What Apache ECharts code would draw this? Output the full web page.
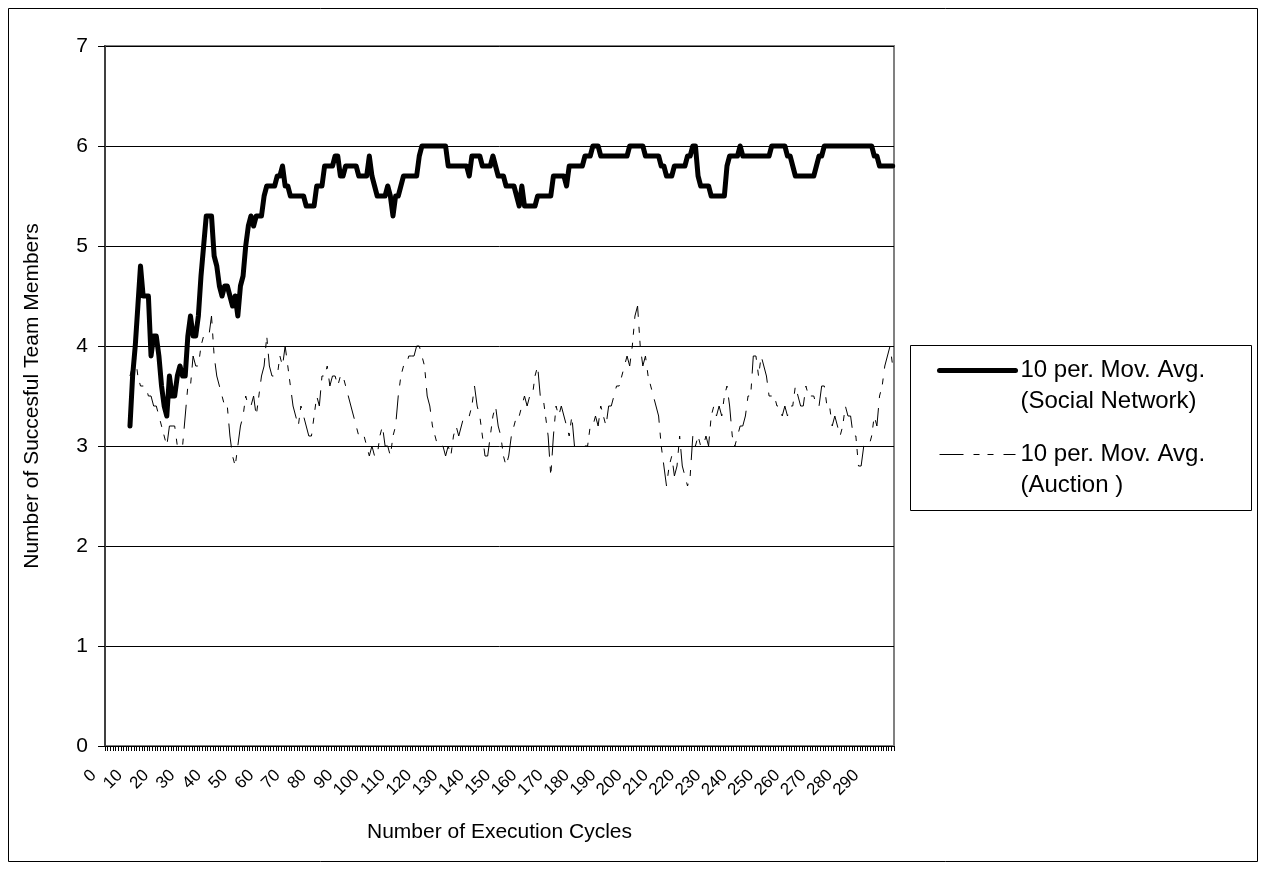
<!DOCTYPE html>
<html>
<head>
<meta charset="utf-8">
<script src="https://cdn.jsdelivr.net/npm/echarts@6/dist/echarts.min.js"></script>
<style>
html,body{margin:0;padding:0;background:#fff}
#chart{width:1266px;height:870px}
</style>
</head>
<body>
<div id="chart"></div>
<script>
// Categories: execution cycles 0..299 (tick labels every 10th category)
const firstCycle = 0;
const lastCycle = 299;
const cycles = [];
for (let c = firstCycle; c <= lastCycle; c++) cycles.push(String(c));

// The 10-period moving average starts at the 10th category (index 9)
const maStart = 9;

const seriesNames = ['10 per. Mov. Avg.\n(Social Network)', '10 per. Mov. Avg.\n(Auction )'];

// 10 per. Mov. Avg. (Social Network), cycles 9..299
const socialNetwork = [
  3.2,
  3.7, 4.0, 4.4, 4.8, 4.5, 4.5, 4.5, 3.9, 4.1, 4.1,
  3.9, 3.6, 3.4, 3.3, 3.7, 3.5, 3.5, 3.7, 3.8, 3.7,
  3.7, 4.1, 4.3, 4.1, 4.1, 4.3, 4.7, 5.0, 5.3, 5.3,
  5.3, 4.9, 4.8, 4.6, 4.5, 4.6, 4.6, 4.5, 4.4, 4.5,
  4.3, 4.6, 4.7, 5.0, 5.2, 5.3, 5.2, 5.3, 5.3, 5.3,
  5.5, 5.6, 5.6, 5.6, 5.6, 5.7, 5.7, 5.8, 5.6, 5.6,
  5.5, 5.5, 5.5, 5.5, 5.5, 5.5, 5.4, 5.4, 5.4, 5.4,
  5.6, 5.6, 5.6, 5.8, 5.8, 5.8, 5.8, 5.9, 5.9, 5.7,
  5.7, 5.8, 5.8, 5.8, 5.8, 5.8, 5.7, 5.7, 5.7, 5.7,
  5.9, 5.7, 5.6, 5.5, 5.5, 5.5, 5.5, 5.6, 5.5, 5.3,
  5.5, 5.5, 5.6, 5.7, 5.7, 5.7, 5.7, 5.7, 5.7, 5.9,
  6.0, 6.0, 6.0, 6.0, 6.0, 6.0, 6.0, 6.0, 6.0, 6.0,
  5.8, 5.8, 5.8, 5.8, 5.8, 5.8, 5.8, 5.8, 5.7, 5.9,
  5.9, 5.9, 5.9, 5.8, 5.8, 5.8, 5.8, 5.9, 5.8, 5.7,
  5.7, 5.7, 5.6, 5.6, 5.6, 5.6, 5.5, 5.4, 5.6, 5.4,
  5.4, 5.4, 5.4, 5.4, 5.5, 5.5, 5.5, 5.5, 5.5, 5.5,
  5.7, 5.7, 5.7, 5.7, 5.7, 5.6, 5.8, 5.8, 5.8, 5.8,
  5.8, 5.8, 5.9, 5.9, 5.9, 6.0, 6.0, 6.0, 5.9, 5.9,
  5.9, 5.9, 5.9, 5.9, 5.9, 5.9, 5.9, 5.9, 5.9, 6.0,
  6.0, 6.0, 6.0, 6.0, 6.0, 5.9, 5.9, 5.9, 5.9, 5.9,
  5.9, 5.8, 5.8, 5.7, 5.7, 5.7, 5.8, 5.8, 5.8, 5.8,
  5.8, 5.9, 5.9, 6.0, 6.0, 5.7, 5.6, 5.6, 5.6, 5.6,
  5.5, 5.5, 5.5, 5.5, 5.5, 5.5, 5.8, 5.9, 5.9, 5.9,
  5.9, 6.0, 5.9, 5.9, 5.9, 5.9, 5.9, 5.9, 5.9, 5.9,
  5.9, 5.9, 5.9, 6.0, 6.0, 6.0, 6.0, 6.0, 6.0, 5.9,
  5.9, 5.8, 5.7, 5.7, 5.7, 5.7, 5.7, 5.7, 5.7, 5.7,
  5.8, 5.9, 5.9, 6.0, 6.0, 6.0, 6.0, 6.0, 6.0, 6.0,
  6.0, 6.0, 6.0, 6.0, 6.0, 6.0, 6.0, 6.0, 6.0, 6.0,
  6.0, 6.0, 5.9, 5.9, 5.8, 5.8, 5.8, 5.8, 5.8, 5.8
];

// 10 per. Mov. Avg. (Auction ), cycles 9..299
const auction = [
  3.7,
  3.8, 3.9, 3.7, 3.6, 3.6, 3.6, 3.5, 3.5, 3.4, 3.4,
  3.3, 3.2, 3.1, 3.0, 3.2, 3.2, 3.2, 3.0, 3.0, 3.0,
  3.3, 3.6, 3.6, 3.9, 3.8, 3.8, 4.0, 4.1, 4.1, 4.1,
  4.3, 3.9, 3.7, 3.6, 3.5, 3.4, 3.4, 3.1, 2.9, 2.8,
  3.0, 3.2, 3.3, 3.5, 3.4, 3.4, 3.5, 3.3, 3.5, 3.7,
  3.8, 4.1, 3.8, 3.7, 3.7, 3.7, 3.9, 3.8, 4.0, 3.8,
  3.6, 3.4, 3.3, 3.2, 3.4, 3.3, 3.2, 3.1, 3.1, 3.3,
  3.5, 3.4, 3.7, 3.7, 3.8, 3.6, 3.7, 3.7, 3.6, 3.7,
  3.7, 3.6, 3.5, 3.4, 3.3, 3.2, 3.1, 3.1, 3.1, 3.0,
  2.9, 3.0, 2.9, 2.9, 3.1, 3.2, 3.0, 3.0, 2.9, 3.1,
  3.2, 3.5, 3.7, 3.8, 3.8, 3.9, 3.9, 3.9, 4.0, 4.0,
  3.9, 3.8, 3.5, 3.4, 3.2, 3.1, 3.0, 3.0, 3.0, 2.9,
  3.0, 2.9, 3.1, 3.2, 3.1, 3.2, 3.3, 3.3, 3.3, 3.4,
  3.6, 3.4, 3.3, 3.1, 2.9, 2.9, 3.1, 3.3, 3.4, 3.2,
  3.1, 2.9, 2.8, 2.9, 3.1, 3.2, 3.3, 3.3, 3.4, 3.5,
  3.4, 3.5, 3.5, 3.7, 3.8, 3.5, 3.5, 3.3, 3.1, 2.7,
  3.1, 3.4, 3.3, 3.4, 3.3, 3.2, 3.1, 3.3, 3.0, 3.0,
  3.0, 3.0, 3.0, 3.0, 3.2, 3.2, 3.3, 3.2, 3.4, 3.3,
  3.2, 3.4, 3.4, 3.5, 3.6, 3.6, 3.7, 3.8, 3.9, 3.8,
  4.0, 4.3, 4.4, 4.0, 3.8, 3.9, 3.7, 3.6, 3.5, 3.4,
  3.3, 3.0, 2.8, 2.6, 2.8, 2.9, 2.7, 2.8, 3.1, 2.8,
  2.7, 2.6, 2.7, 3.1, 3.0, 3.1, 3.0, 3.0, 3.1, 3.0,
  3.3, 3.4, 3.3, 3.4, 3.3, 3.5, 3.6, 3.4, 3.1, 3.0,
  3.1, 3.2, 3.2, 3.3, 3.5, 3.5, 3.9, 3.9, 3.7, 3.9,
  3.8, 3.7, 3.5, 3.5, 3.5, 3.4, 3.4, 3.3, 3.4, 3.3,
  3.4, 3.4, 3.6, 3.5, 3.4, 3.4, 3.6, 3.5, 3.5, 3.5,
  3.4, 3.4, 3.6, 3.6, 3.4, 3.4, 3.2, 3.3, 3.2, 3.1,
  3.2, 3.4, 3.3, 3.3, 3.1, 3.1, 2.8, 2.8, 3.0, 3.0,
  3.0, 3.1, 3.3, 3.2, 3.5, 3.6, 3.8, 3.9, 4.0, 3.8
];

// Value axis ticks
const yMin = 0, yMax = 7, yStep = 1;

const FONT = '"Liberation Sans", Arial, Helvetica, sans-serif';
const pad = new Array(maStart).fill(null);

const chart = echarts.init(document.getElementById('chart'), null, {renderer: 'canvas'});
chart.setOption({
  animation: false,
  backgroundColor: '#ffffff',
  textStyle: {fontFamily: FONT, color: '#000'},
  graphic: [
    {type: 'rect', z: -10, silent: true,
     shape: {x: 8.5, y: 8.5, width: 1249, height: 853},
     style: {fill: 'none', stroke: '#000', lineWidth: 1}},
    {type: 'rect', z: -10, silent: true,
     shape: {x: 910.5, y: 345.5, width: 341, height: 165},
     style: {fill: '#fff', stroke: '#000', lineWidth: 1}}
  ],
  grid: {left: 105, top: 46, width: 789, height: 700, show: true,
         borderColor: '#808080', borderWidth: 2, backgroundColor: '#fff'},
  legend: {
    orient: 'vertical', left: 937, top: 324, padding: 0,
    itemWidth: 76, itemHeight: 14, itemGap: -9,
    data: [
      {name: seriesNames[0], lineStyle: {width: 5, color: '#000'}},
      {name: seriesNames[1], lineStyle: {width: 1, color: '#000', type: [24, 10, 6, 8, 6, 10]}}
    ],
    itemStyle: {opacity: 0},
    formatter: (name) => '\n' + name,
    textStyle: {fontFamily: FONT, fontSize: 24, lineHeight: 31, color: '#000'}
  },
  xAxis: {
    type: 'category', data: cycles, boundaryGap: true,
    name: 'Number of Execution Cycles', nameLocation: 'middle', nameGap: 76,
    nameTextStyle: {fontFamily: FONT, fontSize: 21, color: '#000'},
    axisLine: {lineStyle: {color: '#000', width: 1}},
    axisTick: {show: true, interval: 0, length: 5, lineStyle: {color: '#000', width: 1}},
    axisLabel: {interval: 9, rotate: 45, fontFamily: FONT, fontSize: 17, lineHeight: 15,
                color: '#000', margin: 14, padding: [0, 18, 0, 0]},
    splitLine: {show: false}
  },
  yAxis: {
    type: 'value', min: yMin, max: yMax, interval: yStep,
    name: 'Number of Succesful Team Members', nameLocation: 'middle', nameGap: 62, nameRotate: 90,
    nameTextStyle: {fontFamily: FONT, fontSize: 21, color: '#000'},
    axisLine: {show: true, lineStyle: {color: '#404040', width: 2}},
    axisTick: {show: true, length: 7, lineStyle: {color: '#000', width: 1}},
    axisLabel: {fontFamily: FONT, fontSize: 21, color: '#000', margin: 17},
    splitLine: {show: true, lineStyle: {color: '#000', width: 1}}
  },
  series: [
    {name: seriesNames[0], type: 'line', data: pad.concat(socialNetwork),
     symbol: 'none', showSymbol: false,
     lineStyle: {color: '#000', width: 5, cap: 'round', join: 'round'},
     itemStyle: {color: '#000'}, z: 3},
    {name: seriesNames[1], type: 'line', data: pad.concat(auction),
     symbol: 'none', showSymbol: false,
     lineStyle: {color: '#000', width: 1, type: [24, 10, 6, 8, 6, 10]},
     itemStyle: {color: '#000'}, z: 2}
  ]
});
</script>
</body>
</html>
